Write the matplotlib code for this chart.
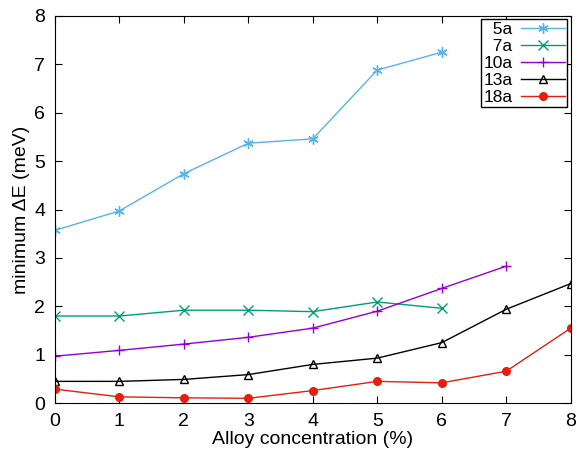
import matplotlib
matplotlib.use("Agg")
import matplotlib.pyplot as plt

plt.rcParams['font.family'] = ['Liberation Sans', 'DejaVu Sans']

# Data
conc_5a = [0, 1, 2, 3, 4, 5, 6]
de_5a = [3.57, 3.97, 4.74, 5.37, 5.46, 6.88, 7.25]

conc_7a = [0, 1, 2, 3, 4, 5, 6]
de_7a = [1.80, 1.80, 1.92, 1.92, 1.89, 2.09, 1.96]

conc_10a = [0, 1, 2, 3, 4, 5, 6, 7]
de_10a = [0.97, 1.09, 1.22, 1.36, 1.55, 1.90, 2.37, 2.83]

conc_13a = [0, 1, 2, 3, 4, 5, 6, 7, 8]
de_13a = [0.45, 0.45, 0.49, 0.59, 0.80, 0.93, 1.25, 1.94, 2.47]

conc_18a = [0, 1, 2, 3, 4, 5, 6, 7, 8]
de_18a = [0.29, 0.13, 0.11, 0.10, 0.26, 0.45, 0.42, 0.66, 1.55]

fig = plt.figure(figsize=(5.83, 4.54), dpi=100)
ax = fig.add_axes([0.094, 0.112, 0.885, 0.853])

ax.plot(conc_5a, de_5a, color='#56b4e9', lw=1, marker=(6, 2, 0), ms=7.5, mew=1, label='  5a')
ax.plot(conc_7a, de_7a, color='#009e73', lw=1, marker='x', ms=6.5, mew=1, label='  7a')
ax.plot(conc_10a, de_10a, color='#9400d3', lw=1, marker='+', ms=7.5, mew=1, label='10a')
ax.plot(conc_13a, de_13a, color='black', lw=1, marker='^', ms=6, mew=1, mfc='none', label='13a')
ax.plot(conc_18a, de_18a, color='#e51e10', lw=1, marker='o', ms=5.5, label='18a')

ax.set_xlim(0, 8)
ax.set_ylim(0, 8)
ax.set_xticks(range(0, 9))
ax.set_yticks(range(0, 9))
ax.tick_params(direction='in', top=True, right=True, length=5, labelsize=14, pad=7)
ax.set_xlabel("Alloy concentration (%)", fontsize=14, labelpad=1)
ax.set_ylabel("minimum ΔE (meV)", fontsize=14, labelpad=3)

leg = ax.legend(loc='upper right', markerfirst=False, fancybox=False, framealpha=1,
                edgecolor='black', fontsize=12.5, borderaxespad=0.2, handlelength=2.5,
                labelspacing=0.1, borderpad=0.15, handletextpad=0.5)
leg.get_frame().set_linewidth(1)

fig.savefig("out.png", dpi=100)
